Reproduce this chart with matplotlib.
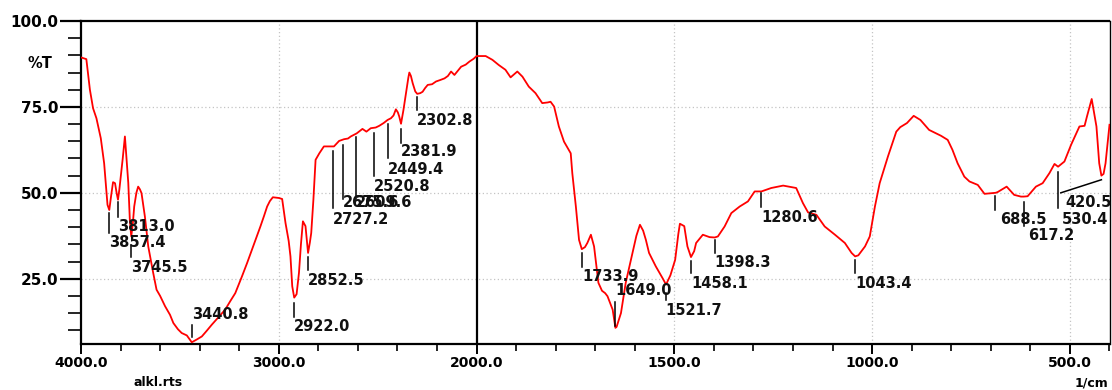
import numpy as np
import matplotlib
matplotlib.use("Agg")
from matplotlib import pyplot as plt
from matplotlib.ticker import FixedLocator, FormatStrFormatter
from matplotlib.font_manager import FontProperties
from matplotlib.transforms import offset_copy

# spectrum: wavenumber (1/cm) and transmittance (%T)
wavenumber = [
    4000, 3973, 3955, 3939, 3922, 3900, 3883, 3866, 3857, 3848, 3838, 3828, 3820, 3813,
    3806, 3799, 3789, 3778, 3770, 3761, 3753, 3746, 3738, 3731, 3720, 3711, 3702, 3694,
    3677, 3660, 3635, 3618, 3600, 3575, 3550, 3533, 3510, 3491, 3465, 3440, 3415, 3389,
    3365, 3339, 3305, 3271, 3245, 3220, 3186, 3160, 3136, 3110, 3093, 3075, 3059, 3045,
    3030, 3000, 2983, 2966, 2950, 2941, 2932, 2922, 2910, 2898, 2888, 2878, 2865, 2858,
    2852, 2843, 2836, 2825, 2814, 2795, 2772, 2745, 2721, 2695, 2670, 2650, 2636, 2606,
    2577, 2557, 2535, 2510, 2492, 2470, 2450, 2433, 2420, 2408, 2398, 2391, 2382, 2370,
    2357, 2345, 2340, 2332, 2323, 2310, 2300, 2285, 2273, 2260, 2247, 2225, 2205, 2185,
    2162, 2145, 2129, 2112, 2095, 2078, 2055, 2036, 2015, 2000, 1985, 1977, 1960, 1944,
    1927, 1914, 1905, 1897, 1884, 1868, 1851, 1834, 1820, 1813, 1804, 1792, 1779, 1762,
    1758, 1749, 1741, 1734, 1726, 1720, 1711, 1703, 1692, 1683, 1675, 1669, 1656, 1649,
    1646, 1635, 1623, 1606, 1596, 1587, 1579, 1572, 1564, 1547, 1530, 1521, 1510, 1498,
    1490, 1486, 1475, 1467, 1458, 1450, 1445, 1428, 1411, 1398, 1390, 1373, 1356, 1335,
    1314, 1297, 1280, 1255, 1225, 1192, 1175, 1162, 1141, 1120, 1094, 1069, 1052, 1043,
    1035, 1018, 1006, 993, 981, 960, 939, 929, 912, 895, 878, 856, 826, 809, 797, 784,
    767, 754, 733, 716, 699, 688, 683, 660, 641, 624, 617, 607, 586, 569, 552, 539, 530,
    514, 497, 476, 463, 457, 445, 433, 426, 420.5, 415, 410, 400,
]
transmittance = [
    89.4, 88.9, 80.0, 74.6, 71.7, 65.9, 58.6, 46.5, 45.0, 49.0, 53.1, 52.8, 50.0, 48.0,
    51.0, 54.7, 60.0, 66.4, 60.0, 52.9, 42.0, 37.3, 41.0, 46.0, 50.0, 51.8, 51.0, 49.9,
    43.1, 34.4, 26.7, 21.8, 20.0, 17.0, 14.5, 12.1, 10.3, 9.2, 8.5, 6.5, 7.3, 8.2,
    9.8, 11.6, 13.8, 16.0, 18.5, 20.8, 25.7, 29.6, 33.4, 37.5, 40.2, 43.2, 46.0, 47.6,
    48.7, 48.5, 48.2, 41.2, 36.0, 31.5, 22.8, 19.5, 20.5, 26.7, 35.0, 41.7, 40.3, 36.0,
    32.5, 35.5, 38.3, 48.0, 59.6, 61.5, 63.5, 63.5, 63.5, 65.1, 65.6, 65.8, 66.4, 67.3,
    68.6, 67.8, 68.8, 69.0, 69.5, 70.3, 71.2, 71.7, 72.5, 74.3, 73.4, 72.2, 70.1, 74.0,
    79.0, 83.5, 85.0, 84.0, 81.9, 79.5, 78.8, 79.0, 79.4, 80.5, 81.4, 81.6, 82.4, 82.8,
    83.3, 84.0, 85.3, 84.3, 85.5, 86.7, 87.3, 88.2, 89.0, 89.8, 89.8, 89.8, 88.7, 87.2,
    85.8, 83.6, 84.5, 85.3, 83.8, 80.9, 79.0, 76.1, 76.3, 76.5, 75.1, 69.3, 64.9, 61.5,
    55.7, 46.0, 36.3, 33.6, 34.2, 35.4, 37.8, 34.4, 23.8, 21.5, 20.8, 19.9, 16.0, 10.7,
    11.0, 15.0, 23.8, 32.5, 37.5, 40.7, 39.0, 36.3, 32.5, 28.6, 25.2, 23.3, 26.0, 30.5,
    38.0, 41.0, 40.3, 34.4, 31.3, 33.0, 35.4, 37.8, 37.1, 37.0, 37.3, 40.2, 44.1, 46.0,
    47.5, 50.4, 50.4, 51.4, 52.1, 51.4, 47.0, 44.3, 43.6, 40.2, 37.8, 35.4, 32.5, 31.5,
    31.8, 34.4, 37.3, 46.0, 52.8, 60.6, 67.8, 69.1, 70.3, 72.4, 71.2, 68.3, 66.6, 65.4, 62.5, 58.6,
    54.7, 53.3, 52.3, 49.7, 49.9, 50.0, 50.2, 51.8, 49.4, 48.9, 48.9, 49.0, 51.8, 52.8, 55.7, 58.4, 57.6,
    59.1, 64.0, 69.3, 69.5, 72.2, 77.3, 69.3, 58.6, 55.0, 55.5, 58.6, 69.8,
]

# picked peaks
peak_wn = [3857.4, 3813.0, 3745.5, 3440.8, 2922.0, 2852.5, 2727.2, 2675.6, 2609.6,
           2520.8, 2449.4, 2381.9, 2302.8, 1733.9, 1649.0, 1521.7, 1458.1, 1398.3,
           1280.6, 1043.4, 688.5, 617.2, 530.4, 420.5]
peak_text = ["%.1f" % w for w in peak_wn]

# marker top, marker bottom, label y (%T), label above?, leader end, label shift (px)
peak_layout = [
    (44.2, 38.4, 37.8, False, None, 0), (47.4, 43.0, 42.4, False, None, 0),
    (34.9, 31.4, 30.5, False, None, 0), (11.6, 8.1, 12.5, True, None, 0),
    (18.0, 14.0, 13.4, False, None, 0), (31.4, 27.6, 26.7, False, None, 0),
    (62.2, 45.6, 44.5, False, None, 0), (64.0, 48.2, 49.4, False, None, 0),
    (66.3, 48.2, 49.4, False, None, 0), (67.4, 54.9, 54.1, False, None, 0),
    (70.1, 60.2, 59.0, False, None, 0), (68.6, 64.5, 64.2, False, None, 0),
    (77.9, 74.1, 73.3, False, None, 0), (32.6, 28.5, 27.9, False, None, 0),
    (18.3, 11.3, 19.5, True, None, 0), (20.9, 18.9, 18.0, False, None, 0),
    (30.2, 26.7, 25.9, False, None, 0), (36.3, 32.6, 32.0, False, None, 0),
    (50.0, 45.9, 45.1, False, None, 0), (30.5, 26.7, 25.9, False, None, 0),
    (49.1, 45.1, 44.5, False, None, 5), (47.4, 40.4, 39.8, False, None, 5),
    (56.1, 45.6, 44.5, False, None, 4), (53.8, 50.0, 49.4, False, 523, 5),
]


def fwd(x):
    x = np.asarray(x, dtype=float)
    return np.where(x >= 2000, 1000 + x / 2, x)


def inv(u):
    u = np.asarray(u, dtype=float)
    return np.where(u >= 2000, (u - 1000) * 2, u)


W, H = 1112, 390
fig = plt.figure(figsize=(W / 100, H / 100), dpi=100)
ax = fig.add_axes([81 / W, 46 / H, 1028.5 / W, 323 / H])
ax.set_xscale("function", functions=(fwd, inv))
ax.set_xlim(4000, 400)
ax.set_ylim(6, 100)

# dotted grid
for g in [25, 50, 75]:
    ax.axhline(g, color="#c4c4c4", lw=0.9, ls=(0, (1, 2)), zorder=0)
for g in [3000, 1500, 1000, 500]:
    ax.axvline(g, color="#c4c4c4", lw=0.9, ls=(0, (1, 2)), zorder=0)
ax.axvline(2000, color="black", lw=1.6, zorder=1)

ax.plot(wavenumber, transmittance, color="#ff0000", lw=1.3, zorder=3)

ax.xaxis.set_major_locator(FixedLocator([4000, 3000, 2000, 1500, 1000, 500]))
ax.xaxis.set_minor_locator(FixedLocator(list(range(3800, 3000, -200)) +
                                        list(range(2800, 2000, -200)) +
                                        [w for w in range(1900, 399, -100) if w % 500]))
ax.xaxis.set_major_formatter(FormatStrFormatter("%.1f"))
ax.yaxis.set_major_locator(FixedLocator([25, 50, 75, 100]))
ax.yaxis.set_minor_locator(FixedLocator(list(range(10, 100, 5))))
ax.yaxis.set_major_formatter(FormatStrFormatter("%.1f"))
ax.tick_params(axis="x", which="major", length=7, width=1.4, pad=1.5, direction="out")
ax.tick_params(axis="x", which="minor", length=5, width=1.2, direction="out")
ax.tick_params(axis="y", which="major", length=15, width=1.6, pad=1.5, direction="out")
ax.tick_params(axis="y", which="minor", length=9.5, width=1.2, direction="out")
for lab in ax.get_xticklabels():
    lab.set_fontproperties(FontProperties(family="DejaVu Sans", weight="bold", size=10))
for lab in ax.get_yticklabels():
    lab.set_fontproperties(FontProperties(family="DejaVu Sans", weight="bold", size=11))

for side in ["left", "top", "bottom"]:
    ax.spines[side].set_linewidth(1.6)
ax.spines["right"].set_linewidth(1.0)

# peak markers and labels
for w, t, (top, bot, ty, above, wend, dx) in zip(peak_wn, peak_text, peak_layout):
    x_end = w if wend is None else wend
    ax.plot([w, x_end], [top, bot], color="black", lw=1.1, zorder=4)
    tr = offset_copy(ax.transData, fig=fig, x=dx, y=0, units="dots")
    ax.text(x_end, ty, t, transform=tr, ha="left", va="bottom" if above else "top",
            family="DejaVu Sans", weight="bold", size=10.5, color="#111111",
            zorder=5, clip_on=False)

fig.text(40 / W, 1 - 64 / H, "%T", ha="center", va="center", family="DejaVu Sans",
         weight="bold", size=10.5)
fig.text(158 / W, 1 - 389 / H, "alkl.rts", ha="center", va="bottom", family="DejaVu Sans",
         weight="bold", size=9)
fig.text(1108 / W, 1 - 389 / H, "1/cm", ha="right", va="bottom", family="DejaVu Sans",
         weight="bold", size=9)

fig.savefig("out.png", dpi=100)
